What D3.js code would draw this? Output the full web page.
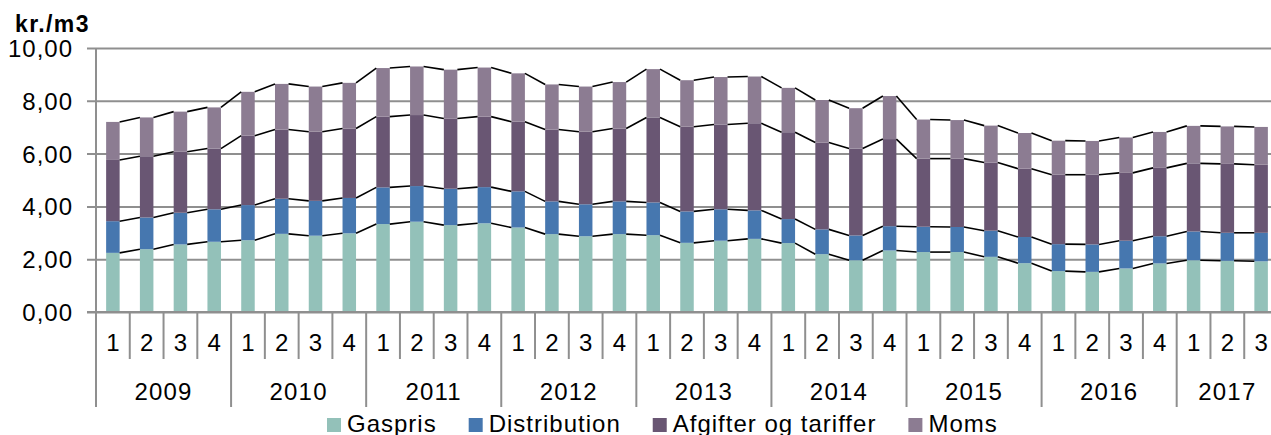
<!DOCTYPE html>
<html>
<head>
<meta charset="utf-8">
<script src="https://cdn.jsdelivr.net/npm/d3@7"></script>
<style>
  body { margin: 0; background: #fff; }
  svg { display: block; font-family: "Liberation Sans", Arial, sans-serif; }
</style>
</head>
<body>
<div id="chart"></div>
<script>
// data (kr./m3 per quarter)
var years = ["2009", "2010", "2011", "2012", "2013", "2014", "2015", "2016", "2017"];
var quarters = ["1", "2", "3", "4"];
var seriesNames = ["Gaspris", "Distribution", "Afgifter og tariffer", "Moms"];
var seriesColors = ["#93c1b9", "#4677af", "#695673", "#8c7c92"];

var gaspris = [2.24, 2.38, 2.56, 2.66, 2.72, 2.96, 2.89, 2.98, 3.33, 3.42, 3.29, 3.36,
               3.20, 2.95, 2.87, 2.95, 2.91, 2.62, 2.70, 2.77, 2.61, 2.19, 1.96, 2.33,
               2.27, 2.27, 2.09, 1.85, 1.55, 1.52, 1.65, 1.84, 1.96, 1.94, 1.92];
var distribution = [1.20, 1.20, 1.20, 1.23, 1.33, 1.33, 1.32, 1.34, 1.39, 1.35, 1.38, 1.37,
                    1.37, 1.24, 1.21, 1.24, 1.24, 1.19, 1.19, 1.08, 0.91, 0.94, 0.94, 0.92,
                    0.96, 0.95, 0.99, 0.99, 1.02, 1.04, 1.05, 1.03, 1.09, 1.06, 1.08];
var afgifter = [2.32, 2.32, 2.31, 2.30, 2.63, 2.62, 2.62, 2.63, 2.68, 2.69, 2.66, 2.67,
                2.64, 2.72, 2.75, 2.76, 3.22, 3.21, 3.21, 3.30, 3.29, 3.29, 3.29, 3.30,
                2.58, 2.59, 2.58, 2.59, 2.63, 2.64, 2.57, 2.59, 2.58, 2.61, 2.58];
var moms = [1.44, 1.47, 1.52, 1.56, 1.66, 1.73, 1.71, 1.73, 1.84, 1.84, 1.85, 1.86,
            1.83, 1.71, 1.71, 1.76, 1.83, 1.76, 1.80, 1.77, 1.68, 1.61, 1.53, 1.63,
            1.48, 1.46, 1.40, 1.35, 1.29, 1.28, 1.34, 1.36, 1.42, 1.42, 1.43];
var yTicks = [0, 2, 4, 6, 8, 10];

var svgWidth = 1271;
var svgHeight = 435;
var margin = { top: 48, right: -7, bottom: 123, left: 96 };
var width = svgWidth - margin.left - margin.right;
var height = svgHeight - margin.top - margin.bottom;

// build table: one row per quarter
var data = gaspris.map(function(g, i) {
    return {
        key: years[Math.floor(i / 4)] + "-" + quarters[i % 4],
        year: years[Math.floor(i / 4)],
        q: quarters[i % 4],
        "Gaspris": g,
        "Distribution": distribution[i],
        "Afgifter og tariffer": afgifter[i],
        "Moms": moms[i]
    };
});

var stack = d3.stack().keys(seriesNames);
var layers = stack(data);

var svg = d3.select("#chart").append("svg")
            .attr("width", svgWidth)
            .attr("height", svgHeight);

var chartGroup = svg.append("g")
                    .attr("transform", `translate(${margin.left}, ${margin.top})`);

var x = d3.scaleBand()
          .domain(data.map(d => d.key))
          .range([0, width])
          .paddingInner(0.6)
          .paddingOuter(0.3);

var band = d3.scaleBand()
             .domain(data.map(d => d.key))
             .range([0, width]);

var y = d3.scaleLinear()
          .domain([0, 10])
          .range([height, 0]);

var gridColor = "#8f8f8f";

// gridlines + y labels
var yAxis = d3.axisLeft(y)
              .tickValues(yTicks)
              .tickSize(-width)
              .tickPadding(23)
              .tickFormat(d => d3.format(".2f")(d).replace(".", ","));

chartGroup.append("g")
          .attr("class", "y-axis")
          .call(yAxis)
          .call(g => g.select(".domain").remove())
          .call(g => g.selectAll(".tick line")
                      .attr("x1", -9)
                      .attr("stroke", gridColor)
                      .attr("stroke-width", 2))
          .call(g => g.selectAll(".tick text")
                      .attr("fill", "#000")
                      .attr("font-size", 24)
                      .attr("letter-spacing", 1)
                      .attr("dy", "0.35em"));

// y axis line
chartGroup.append("line")
          .attr("x1", 0).attr("x2", 0)
          .attr("y1", 0).attr("y2", height)
          .attr("stroke", gridColor)
          .attr("stroke-width", 2);

// stacked bars
chartGroup.selectAll(".layer")
          .data(layers)
          .enter()
          .append("g")
          .attr("class", "layer")
          .attr("fill", (d, i) => seriesColors[i])
          .selectAll("rect")
          .data(d => d)
          .enter()
          .append("rect")
          .attr("x", d => x(d.data.key))
          .attr("y", d => y(d[1]))
          .attr("width", x.bandwidth())
          .attr("height", d => y(d[0]) - y(d[1]));

// series lines between bars
layers.forEach(function(layer) {
    var segs = layer.slice(0, -1).map(function(d, i) {
        var nxt = layer[i + 1];
        return [[x(d.data.key) + x.bandwidth(), y(d[1])], [x(nxt.data.key), y(nxt[1])]];
    });
    chartGroup.append("g")
              .selectAll("line")
              .data(segs)
              .enter()
              .append("line")
              .attr("x1", d => d[0][0]).attr("y1", d => d[0][1])
              .attr("x2", d => d[1][0]).attr("y2", d => d[1][1])
              .attr("stroke", "#000")
              .attr("stroke-width", 1.6);
});

// x axis line
chartGroup.append("line")
          .attr("x1", -9).attr("x2", width)
          .attr("y1", height).attr("y2", height)
          .attr("stroke", gridColor)
          .attr("stroke-width", 2);

// category separators
var xAxisGroup = chartGroup.append("g").attr("transform", `translate(0, ${height})`);

xAxisGroup.selectAll(".sep")
          .data(data)
          .enter()
          .append("line")
          .attr("x1", d => band(d.key))
          .attr("x2", d => band(d.key))
          .attr("y1", 0)
          .attr("y2", d => d.q === "1" ? 95 : 47)
          .attr("stroke", gridColor)
          .attr("stroke-width", 2);

xAxisGroup.selectAll(".qlab")
          .data(data)
          .enter()
          .append("text")
          .attr("x", d => band(d.key) + band.bandwidth() / 2)
          .attr("y", 31)
          .attr("dy", "0.35em")
          .attr("text-anchor", "middle")
          .attr("font-size", 24)
          .text(d => d.q);

xAxisGroup.selectAll(".ylab")
          .data(years)
          .enter()
          .append("text")
          .attr("x", function(yr) {
              var ks = data.filter(d => d.year === yr);
              var x0 = band(ks[0].key);
              var x1 = band(ks[ks.length - 1].key) + band.bandwidth();
              return (x0 + x1) / 2;
          })
          .attr("y", 80)
          .attr("dy", "0.35em")
          .attr("text-anchor", "middle")
          .attr("font-size", 24)
          .attr("letter-spacing", 1.2)
          .text(d => d);

// axis title
svg.append("text")
   .attr("x", 15)
   .attr("y", 32)
   .attr("font-size", 23)
   .attr("font-weight", "bold")
   .attr("letter-spacing", 1.4)
   .text("kr./m3");

// legend
var legend = svg.append("g").attr("transform", "translate(327, 0)");
var lx = 0;
seriesNames.forEach(function(name, i) {
    legend.append("rect")
          .attr("x", lx)
          .attr("y", 418)
          .attr("width", 14)
          .attr("height", 14)
          .attr("fill", seriesColors[i]);
    var t = legend.append("text")
                  .attr("x", lx + 20)
                  .attr("y", 432)
                  .attr("font-size", 24)
                  .attr("letter-spacing", 1)
                  .text(name);
    lx += 20 + t.node().getComputedTextLength() + 32;
});
</script>
</body>
</html>
